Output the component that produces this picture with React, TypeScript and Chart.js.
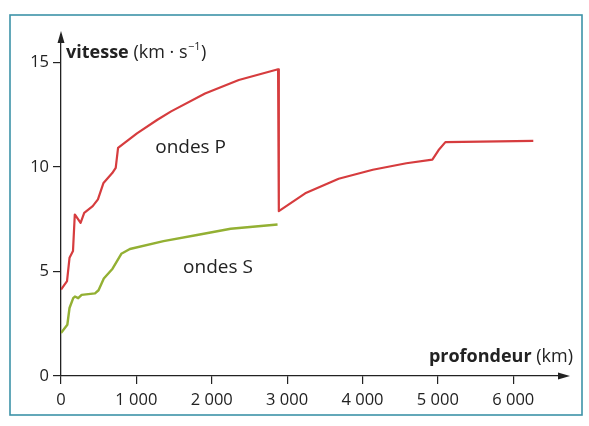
import { useEffect, useRef } from 'react';
import { Chart, registerables } from 'chart.js';

Chart.register(...registerables);

// ---- data (depth in km, speed in km/s) ----
const pDepth = [0, 80, 113, 159, 183, 260, 308, 421, 490, 564, 680, 726, 757, 1008, 1279, 1461, 1911, 2359, 2880, 2890, 3240, 3684, 4137, 4582, 4927, 5010, 5100, 6266];
const pSpeed = [4.13, 4.53, 5.65, 5.97, 7.72, 7.32, 7.8, 8.12, 8.44, 9.23, 9.7, 9.95, 10.9, 11.6, 12.25, 12.65, 13.5, 14.15, 14.66, 7.88, 8.73, 9.43, 9.86, 10.17, 10.34, 10.8, 11.18, 11.24];

const sDepth = [0, 84, 113, 162, 185, 228, 274, 451, 498, 568, 684, 800, 914, 1360, 1805, 2251, 2873];
const sSpeed = [2.05, 2.45, 3.25, 3.72, 3.8, 3.72, 3.88, 3.95, 4.1, 4.66, 5.13, 5.84, 6.07, 6.45, 6.74, 7.04, 7.24];

const xTicks = [0, 1000, 2000, 3000, 4000, 5000, 6000];
const xTickLabels = ['0', '1 000', '2 000', '3 000', '4 000', '5 000', '6 000'];
const yTicks = [0, 5, 10, 15];
const yTickLabels = ['0', '5', '10', '15'];

const pLabel = 'ondes P';
const sLabel = 'ondes S';
const yTitleBold = 'vitesse';
const yTitleUnit = ' (km · s';
const yTitleSup = '−1';
const yTitleEnd = ')';
const xTitleBold = 'profondeur';
const xTitleUnit = ' (km)';

const FONT = "'Open Sans', 'Noto Sans', sans-serif";
const INK = '#222222';
const P_COLOR = '#d63c3e';
const S_COLOR = '#93b033';
const FRAME = '#3d93a8';

const decor = {
  id: 'decor',
  beforeDraw(chart: any) {
    const ctx = chart.ctx;
    ctx.save();
    ctx.fillStyle = '#ffffff';
    ctx.fillRect(0, 0, chart.width, chart.height);
    ctx.restore();
  },
  afterDraw(chart: any) {
    const ctx = chart.ctx;
    const { left, right, top, bottom } = chart.chartArea;
    const xs = chart.scales.x;
    const ys = chart.scales.y;
    ctx.save();
    // frame
    ctx.strokeStyle = FRAME;
    ctx.lineWidth = 1.6;
    ctx.strokeRect(10, 15, 572, 400);

    // arrowheads
    ctx.fillStyle = INK;
    ctx.beginPath();
    ctx.moveTo(left, top - 4);
    ctx.lineTo(left - 3.5, top + 8);
    ctx.lineTo(left + 3.5, top + 8);
    ctx.closePath();
    ctx.fill();
    ctx.beginPath();
    ctx.moveTo(right + 4, bottom);
    ctx.lineTo(right - 8, bottom - 3.5);
    ctx.lineTo(right - 8, bottom + 3.5);
    ctx.closePath();
    ctx.fill();

    // y title
    ctx.fillStyle = INK;
    ctx.textBaseline = 'alphabetic';
    ctx.textAlign = 'left';
    let x = left + 5;
    const yb = 58;
    ctx.font = `bold 18px ${FONT}`;
    ctx.fillText(yTitleBold, x, yb);
    x += ctx.measureText(yTitleBold).width;
    ctx.font = `18px ${FONT}`;
    ctx.fillText(yTitleUnit, x, yb);
    x += ctx.measureText(yTitleUnit).width;
    ctx.font = `11px ${FONT}`;
    ctx.fillText(yTitleSup, x + 0.5, yb - 8);
    x += ctx.measureText(yTitleSup).width + 1;
    ctx.font = `18px ${FONT}`;
    ctx.fillText(yTitleEnd, x, yb);

    // x title (right aligned)
    ctx.font = `18px ${FONT}`;
    const wUnit = ctx.measureText(xTitleUnit).width;
    ctx.font = `bold 18px ${FONT}`;
    const wBold = ctx.measureText(xTitleBold).width;
    const xr = 573;
    const xbl = 362;
    ctx.fillText(xTitleBold, xr - wUnit - wBold, xbl);
    ctx.font = `18px ${FONT}`;
    ctx.fillText(xTitleUnit, xr - wUnit, xbl);

    // series labels
    ctx.font = `19px ${FONT}`;
    ctx.fillText(pLabel, xs.getPixelForValue(1250), ys.getPixelForValue(10.67));
    ctx.fillText(sLabel, xs.getPixelForValue(1620), ys.getPixelForValue(4.93));
    ctx.restore();
  },
};

export default function App() {
  const ref = useRef<HTMLCanvasElement>(null);
  useEffect(() => {
    if (!ref.current) return;
    const chart = new Chart(ref.current, {
      type: 'line',
      data: {
        datasets: [
          {
            label: pLabel,
            data: pDepth.map((d, i) => ({ x: d, y: pSpeed[i] })),
            borderColor: P_COLOR,
            borderWidth: 2.2,
            borderJoinStyle: 'round',
            pointRadius: 0,
            tension: 0,
            fill: false,
          },
          {
            label: sLabel,
            data: sDepth.map((d, i) => ({ x: d, y: sSpeed[i] })),
            borderColor: S_COLOR,
            borderWidth: 2.4,
            borderJoinStyle: 'round',
            pointRadius: 0,
            tension: 0,
            fill: false,
          },
        ],
      },
      options: {
        responsive: false,
        animation: false,
        layout: { padding: { left: 0, top: 35, right: 23, bottom: 0 } },
        plugins: { legend: { display: false }, tooltip: { enabled: false }, title: { display: false } },
        scales: {
          x: {
            type: 'linear',
            min: 0,
            max: 6700,
            afterBuildTicks: (s: any) => {
              s.ticks = xTicks.map((v) => ({ value: v }));
            },
            afterFit: (s: any) => {
              s.height = 50;
            },
            ticks: {
              autoSkip: false,
              maxRotation: 0,
              padding: 6,
              color: INK,
              font: { family: FONT, size: 16.5 },
              callback: (v: any) => {
                const i = xTicks.indexOf(Number(v));
                return i >= 0 ? xTickLabels[i] : '';
              },
            },
            grid: { drawOnChartArea: false, drawTicks: true, tickLength: 8, color: INK, lineWidth: 1.2 },
            border: { display: true, color: INK, width: 1.3 },
          },
          y: {
            type: 'linear',
            min: 0,
            max: 16.3,
            afterBuildTicks: (s: any) => {
              s.ticks = yTicks.map((v) => ({ value: v }));
            },
            afterFit: (s: any) => {
              s.width = 61;
            },
            ticks: {
              autoSkip: false,
              padding: 4,
              color: INK,
              font: { family: FONT, size: 16.5 },
              callback: (v: any) => {
                const i = yTicks.indexOf(Number(v));
                return i >= 0 ? yTickLabels[i] : '';
              },
            },
            grid: { drawOnChartArea: false, drawTicks: true, tickLength: 8, color: INK, lineWidth: 1.2 },
            border: { display: true, color: INK, width: 1.3 },
          },
        },
      },
      plugins: [decor],
    } as any);
    return () => chart.destroy();
  }, []);
  return (
    <div style={{ position: 'fixed', left: 0, top: 0, width: 589, height: 426 }}>
      <canvas ref={ref} width={589} height={426} style={{ display: 'block', width: 589, height: 426 }} />
    </div>
  );
}
